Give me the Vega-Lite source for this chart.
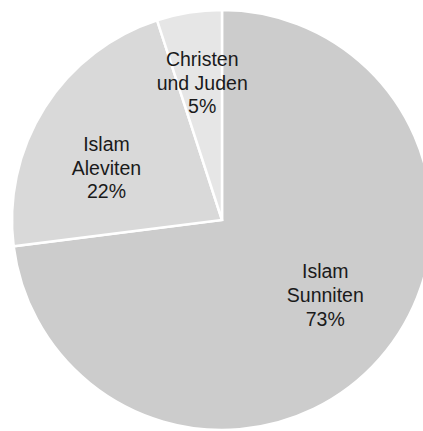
{
  "$schema": "https://vega.github.io/schema/vega-lite/v6.json",
  "width": 444,
  "height": 440,
  "padding": 0,
  "autosize": {"type": "none"},
  "background": "white",
  "view": {"stroke": null},
  "data": {
    "values": [
      {"group": "Islam Sunniten", "label": "Islam\nSunniten\n73%", "value": 73, "ord": 1},
      {"group": "Islam Aleviten", "label": "Islam\nAleviten\n22%", "value": 22, "ord": 2},
      {"group": "Christen und Juden", "label": "Christen\nund Juden\n5%", "value": 5, "ord": 3}
    ]
  },
  "transform": [
    {"stack": "value", "groupby": [], "sort": [{"field": "ord", "order": "ascending"}], "as": ["v0", "v1"]},
    {"calculate": "(datum.v0 + datum.v1) / 2", "as": "mid"}
  ],
  "layer": [
    {
      "mark": {"type": "arc", "outerRadius": 210, "stroke": "white", "strokeWidth": 2.5},
      "encoding": {
        "theta": {"field": "v0", "type": "quantitative", "scale": {"domain": [0, 100]}},
        "theta2": {"field": "v1"},
        "color": {
          "field": "group",
          "type": "nominal",
          "scale": {
            "domain": ["Islam Sunniten", "Islam Aleviten", "Christen und Juden"],
            "range": ["#cccccc", "#d9d9d9", "#e6e6e6"]
          },
          "legend": null
        }
      }
    },
    {
      "transform": [{"filter": "datum.ord == 1"}],
      "mark": {"type": "text", "radius": 135, "dx": 2, "dy": -31, "font": "Liberation Sans", "fontSize": 19.5, "color": "#1a1a1a", "lineBreak": "\n", "lineHeight": 24, "align": "center", "baseline": "alphabetic"},
      "encoding": {
        "theta": {"field": "mid", "type": "quantitative", "scale": {"domain": [0, 100]}},
        "text": {"field": "label"}
      }
    },
    {
      "transform": [{"filter": "datum.ord == 2"}],
      "mark": {"type": "text", "radius": 125, "dx": -10, "dy": -2, "font": "Liberation Sans", "fontSize": 19.5, "color": "#1a1a1a", "lineBreak": "\n", "lineHeight": 23.7, "align": "center", "baseline": "alphabetic"},
      "encoding": {
        "theta": {"field": "mid", "type": "quantitative", "scale": {"domain": [0, 100]}},
        "text": {"field": "label"}
      }
    },
    {
      "transform": [{"filter": "datum.ord == 3"}],
      "mark": {"type": "text", "radius": 165, "dx": 6, "dy": 9, "font": "Liberation Sans", "fontSize": 19.5, "color": "#1a1a1a", "lineBreak": "\n", "lineHeight": 23.5, "align": "center", "baseline": "alphabetic"},
      "encoding": {
        "theta": {"field": "mid", "type": "quantitative", "scale": {"domain": [0, 100]}},
        "text": {"field": "label"}
      }
    }
  ]
}
